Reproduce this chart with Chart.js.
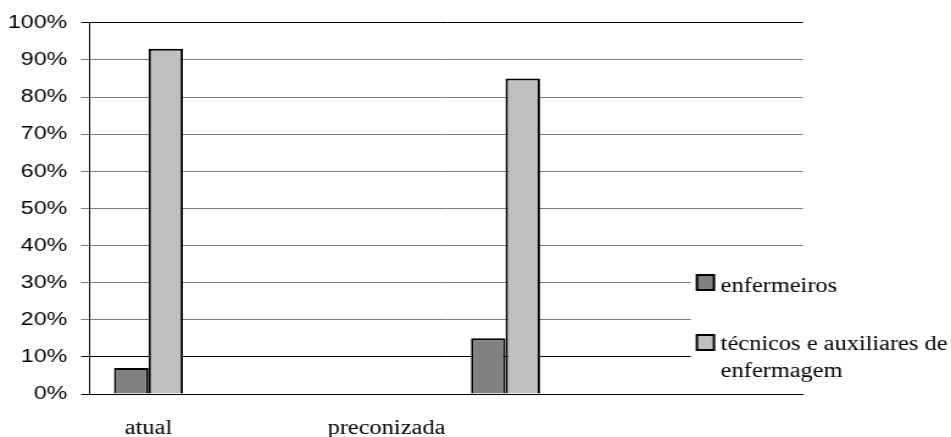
<!DOCTYPE html>
<html>
<head>
<meta charset="utf-8">
<script src="https://cdn.jsdelivr.net/npm/chart.js@4/dist/chart.umd.min.js"></script>
<style>
  html, body { margin: 0; padding: 0; background: #fff; }
</style>
</head>
<body>
<!-- drawing surface is rendered narrow and widened on screen -->
<canvas id="chart" width="780" height="437" style="display:block;width:951px;height:437px;"></canvas>
<script>
// Categories and series (percent of staff)
const categories = ['atual', 'preconizada'];
const seriesNames = ['enfermeiros', 'técnicos e auxiliares de enfermagem'];
const enfermeiros = [7, 15];
const tecnicos = [93, 85];
const percentTicks = [0, 10, 20, 30, 40, 50, 60, 70, 80, 90, 100];

// The horizontal axis is split into six equal slots; bars and labels sit in these slots
const slotCount = 6;
const barSlot = [0, 3];
const labelSlot = [0, 2];

const axisLabels = new Array(slotCount).fill('');
categories.forEach((c, i) => { axisLabels[labelSlot[i]] = c; });

function toSlots(values) {
  const out = new Array(slotCount).fill(null);
  values.forEach((v, i) => { out[barSlot[i]] = v; });
  return out;
}

const fills = ['#808080', '#c0c0c0'];
const darkLines = [0, 10, 100];

// Legend drawn over the right end of the plot area, on a white panel
const sideLegend = {
  id: 'sideLegend',
  afterDatasetsDraw(chart) {
    const { ctx, chartArea } = chart;
    const left = chartArea.right - 92;
    const base = chartArea.bottom;
    const boxX = left + 5, boxW = 14, boxH = 15;
    const textX = left + 24.5;
    const maxW = chart.width - textX;
    ctx.save();
    ctx.fillStyle = '#ffffff';
    ctx.fillRect(left, base - 140, chart.width - left, 134);
    ctx.font = '20px "Liberation Serif", "Times New Roman", serif';
    ctx.textAlign = 'left';
    ctx.textBaseline = 'alphabetic';
    const items = [
      { boxTop: base - 119, baseline: base - 102.5 },
      { boxTop: base - 59, baseline: base - 44 }
    ];
    chart.data.datasets.forEach((ds, i) => {
      const it = items[i];
      ctx.fillStyle = ds.backgroundColor;
      ctx.fillRect(boxX, it.boxTop, boxW, boxH);
      ctx.strokeStyle = '#000';
      ctx.lineWidth = 2;
      ctx.strokeRect(boxX, it.boxTop, boxW, boxH);
      // wrap the label into lines that fit to the right edge
      const words = ds.label.split(' ');
      const lines = [];
      let line = '';
      words.forEach(w => {
        const test = line ? line + ' ' + w : w;
        if (line && ctx.measureText(test).width > maxW) { lines.push(line); line = w; }
        else line = test;
      });
      if (line) lines.push(line);
      ctx.fillStyle = '#000';
      lines.forEach((l, k) => ctx.fillText(l, textX, it.baseline + k * 27));
    });
    ctx.restore();
  }
};

new Chart(document.getElementById('chart'), {
  type: 'bar',
  data: {
    labels: axisLabels,
    datasets: [
      {
        label: seriesNames[0],
        data: toSlots(enfermeiros),
        backgroundColor: fills[0],
        borderColor: '#000',
        borderWidth: 2
      },
      {
        label: seriesNames[1],
        data: toSlots(tecnicos),
        backgroundColor: fills[1],
        borderColor: '#000',
        borderWidth: 2
      }
    ]
  },
  options: {
    responsive: false,
    devicePixelRatio: 1,
    animation: false,
    layout: { padding: { left: 6.5, right: 121.4, top: 22, bottom: 0 } },
    datasets: {
      bar: { categoryPercentage: 0.58, barPercentage: 1.0, skipNull: false }
    },
    plugins: {
      legend: { display: false },
      tooltip: { enabled: false }
    },
    scales: {
      x: {
        afterFit: (scale) => { scale.height = 43; },
        grid: { display: false, drawTicks: false },
        border: { display: true, color: '#000', width: 1 },
        ticks: {
          autoSkip: false,
          maxRotation: 0,
          padding: 25,
          color: '#000',
          font: { family: '"Liberation Serif", "Times New Roman", serif', size: 20, lineHeight: 1 }
        }
      },
      y: {
        min: 0,
        max: 100,
        afterFit: (scale) => { scale.width = 66.5; },
        afterBuildTicks: (scale) => { scale.ticks = percentTicks.map(v => ({ value: v })); },
        grid: {
          drawTicks: true,
          tickLength: 6.5,
          lineWidth: 1,
          color: (c) => darkLines.includes(c.tick && c.tick.value) ? '#000' : '#7a7a7a'
        },
        border: { display: true, color: '#000', width: 1 },
        ticks: {
          padding: 11.4,
          color: '#000',
          font: { family: '"Liberation Sans", Arial, sans-serif', size: 19 },
          callback: (v) => v + '%'
        }
      }
    }
  },
  plugins: [sideLegend]
});
</script>
</body>
</html>
